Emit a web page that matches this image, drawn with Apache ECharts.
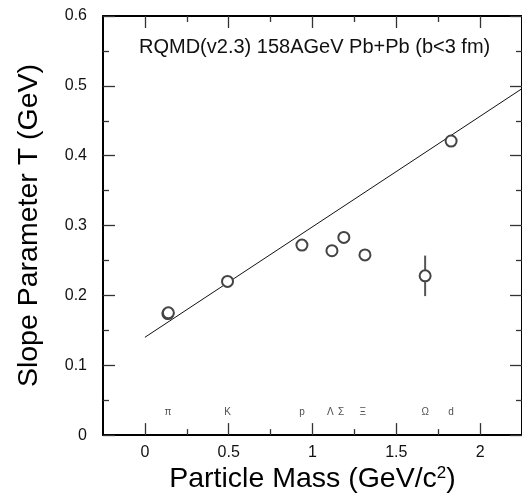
<!DOCTYPE html>
<html>
<head>
<meta charset="utf-8">
<script src="https://cdn.jsdelivr.net/npm/echarts@6/dist/echarts.min.js"></script>
<style>
html,body{margin:0;padding:0;background:#fff;}
#chart{width:522px;height:499px;}
</style>
</head>
<body>
<div id="chart"></div>
<script>
// Data
const particles = ['π', 'π', 'K', 'p', 'Λ', 'Σ', 'Ξ', 'Ω', 'd'];
const masses = [0.137, 0.140, 0.493, 0.937, 1.116, 1.187, 1.313, 1.672, 1.827];
const slopeT = [0.174, 0.175, 0.220, 0.272, 0.264, 0.283, 0.258, 0.228, 0.421];
const omegaMass = 1.672;
const omegaT = 0.228;
const omegaErr = 0.029;
const fitX = [0, 2.25];
const fitY = [0.140, 0.496];
const labelNames = ['π', 'K', 'p', 'Λ', 'Σ', 'Ξ', 'Ω', 'd'];
const labelX = [0.138, 0.493, 0.937, 1.106, 1.171, 1.300, 1.672, 1.827];
const labelY = 0.033;
const xMajor = [0, 0.5, 1, 1.5, 2];
const xMinor = [0.25, 0.75, 1.25, 1.75];
const xLabels = ['0', '0.5', '1', '1.5', '2'];
const yLabels = ['0', '0.1', '0.2', '0.3', '0.4', '0.5', '0.6'];

const FONT = 'Liberation Sans, Arial, Helvetica, sans-serif';
const chart = echarts.init(document.getElementById('chart'));

const axisLineStyle = {color: '#000', width: 2};
const tickStyle = {color: '#333', width: 1.3};

function xAxisDef(pos, major, extra) {
  return Object.assign({
    type: 'value', min: -0.25, max: 2.25, position: pos,
    axisLine: major ? {show: true, onZero: false, lineStyle: axisLineStyle} : {show: false, onZero: false},
    axisTick: {show: true, inside: true, length: major ? 12 : 6,
      customValues: major ? xMajor : xMinor, lineStyle: tickStyle},
    axisLabel: {show: false},
    splitLine: {show: false}
  }, extra || {});
}
function yAxisDef(pos, extra) {
  return Object.assign({
    type: 'value', min: 0, max: 0.6, interval: 0.1, position: pos,
    axisLine: {show: true, onZero: false, lineStyle: axisLineStyle},
    axisTick: {show: true, inside: true, length: 12, lineStyle: tickStyle},
    minorTick: {show: true, splitNumber: 2, length: 6, lineStyle: tickStyle},
    axisLabel: {show: false},
    splitLine: {show: false},
    minorSplitLine: {show: false}
  }, extra || {});
}

const pts = masses.map((m, i) => [m, slopeT[i]]);
const labelPts = labelX.map((x, i) => ({value: [x, labelY], name: labelNames[i]}));

const option = {
  animation: false,
  backgroundColor: '#fff',
  textStyle: {fontFamily: FONT},
  title: {
    text: 'RQMD(v2.3) 158AGeV Pb+Pb (b<3 fm)',
    left: 134, top: 32,
    textStyle: {fontFamily: FONT, fontSize: 20, fontWeight: 'normal', color: '#111'}
  },
  grid: {left: 103, top: 16, right: -4.6, bottom: 60.5, containLabel: false},
  xAxis: [
    xAxisDef('bottom', true, {
      axisLabel: {show: true, customValues: xMajor, fontSize: 16, color: '#111', margin: 9,
        fontFamily: FONT,
        formatter: v => xLabels[xMajor.indexOf(Math.round(v * 100) / 100)] ?? ''},
      name: 'Particle Mass (GeV/c{sup|2})',
      nameLocation: 'middle', nameGap: 29,
      nameTextStyle: {fontFamily: FONT, fontSize: 28.5, color: '#000',
        rich: {sup: {fontSize: 17, fontFamily: FONT, verticalAlign: 'top', color: '#000', padding: [0, 0, 12, 0]}}}
    }),
    xAxisDef('bottom', false),
    xAxisDef('top', true),
    xAxisDef('top', false)
  ],
  yAxis: [
    yAxisDef('left', {
      axisLabel: {show: true, fontSize: 16, color: '#111', margin: 16, fontFamily: FONT,
        formatter: v => yLabels[Math.round(v * 10)] ?? ''},
      name: 'Slope Parameter T (GeV)',
      nameLocation: 'middle', nameGap: 59,
      nameTextStyle: {fontFamily: FONT, fontSize: 28.5, color: '#000'}
    }),
    yAxisDef('right')
  ],
  series: [
    {
      type: 'line', xAxisIndex: 0, yAxisIndex: 0,
      data: fitX.map((x, i) => [x, fitY[i]]),
      symbol: 'none', lineStyle: {color: '#111', width: 1}, z: 2, silent: true
    },
    {
      type: 'custom', xAxisIndex: 0, yAxisIndex: 0, z: 3,
      data: [[omegaMass, omegaT, omegaErr]],
      renderItem: function (params, api) {
        const x = api.value(0), y = api.value(1), e = api.value(2);
        const p1 = api.coord([x, y - e]);
        const p2 = api.coord([x, y + e]);
        return {type: 'line', shape: {x1: p1[0], y1: p1[1], x2: p2[0], y2: p2[1]},
          style: {stroke: '#555', lineWidth: 2}};
      }
    },
    {
      type: 'scatter', xAxisIndex: 0, yAxisIndex: 0, z: 5,
      data: pts, symbol: 'circle', symbolSize: 11,
      itemStyle: {color: '#fff', borderColor: '#444', borderWidth: 2, opacity: 1}
    },
    {
      type: 'scatter', xAxisIndex: 0, yAxisIndex: 0, z: 6,
      data: labelPts, symbolSize: 0, silent: true,
      label: {show: true, position: 'inside', formatter: p => p.name,
        fontSize: 10, color: '#222', fontFamily: FONT}
    }
  ]
};
chart.setOption(option);
</script>
</body>
</html>
